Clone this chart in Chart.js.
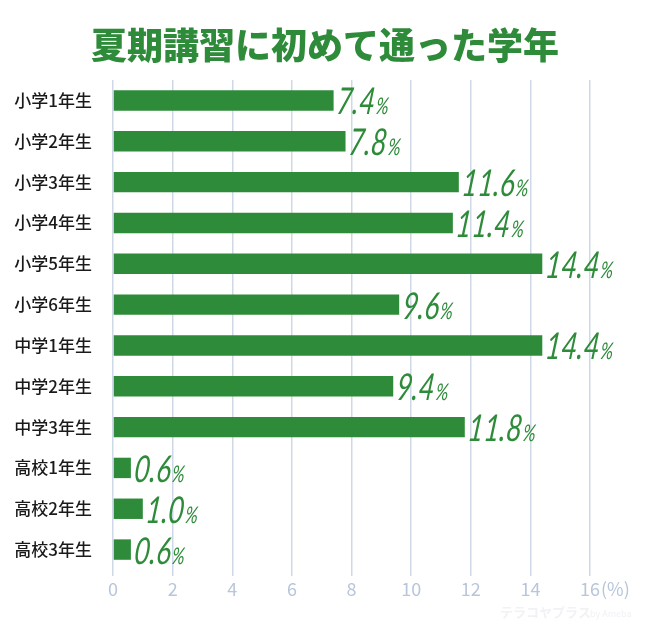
<!DOCTYPE html>
<html>
<head>
<meta charset="utf-8">
<script src="https://cdn.jsdelivr.net/npm/chart.js@4"></script>
<style>
  html, body { margin: 0; padding: 0; background: #fff; }
  #wrap { width: 650px; height: 630px; position: relative; }
</style>
</head>
<body>
<div id="wrap"><canvas id="chart" width="650" height="630"></canvas></div>
<script>
const grades = ["小学1年生","小学2年生","小学3年生","小学4年生","小学5年生","小学6年生","中学1年生","中学2年生","中学3年生","高校1年生","高校2年生","高校3年生"];
const shares = [7.4, 7.8, 11.6, 11.4, 14.4, 9.6, 14.4, 9.4, 11.8, 0.6, 1.0, 0.6];
const xTicks = [0, 2, 4, 6, 8, 10, 12, 14, 16];

const green = "#2e8b3a";
const gridColor = "#cfd8e6";
const jp = "'Noto Sans CJK JP', 'Noto Sans', sans-serif";

const decorPlugin = {
    id: "decor",
    afterDatasetsDraw(chart) {
        const ctx = chart.ctx;
        const meta = chart.getDatasetMeta(0);
        ctx.save();
        ctx.fillStyle = green;
        ctx.textBaseline = "alphabetic";
        meta.data.forEach((bar, i) => {
            const num = shares[i].toFixed(1);
            const x = bar.x + 2;
            const y = bar.y + 14;
            ctx.save();
            ctx.translate(x, y);
            ctx.transform(0.74, 0, -0.12, 1, 0, 0);
            ctx.font = "italic 400 37px Lato, 'Liberation Sans', sans-serif";
            ctx.textAlign = "left";
            ctx.fillText(num, 0, 0);
            const w = ctx.measureText(num).width;
            ctx.font = "italic 400 23px Lato, 'Liberation Sans', sans-serif";
            ctx.fillText("%", w + 2, 0);
            ctx.restore();
        });
        ctx.restore();
    },
    afterDraw(chart) {
        const ctx = chart.ctx;
        const xs = chart.scales.x;
        ctx.save();
        // title
        ctx.fillStyle = green;
        ctx.font = "900 36px " + jp;
        ctx.textAlign = "center";
        ctx.textBaseline = "middle";
        ctx.fillText("夏期講習に初めて通った学年", 325, 45);
        // unit after last tick
        ctx.fillStyle = "#b9c6da";
        ctx.font = "18px " + jp;
        ctx.textAlign = "left";
        ctx.fillText("(%)", xs.getPixelForValue(16) + 11, 589);
        // watermark
        ctx.fillStyle = "#f0f2f5";
        ctx.font = "bold 13px " + jp;
        ctx.fillText("テラコヤプラス", 500, 612);
        ctx.font = "9px " + jp;
        ctx.fillText("by Ameba", 590, 614);
        ctx.restore();
    }
};

new Chart(document.getElementById("chart"), {
    type: "bar",
    data: {
        labels: grades,
        datasets: [{
            data: shares,
            backgroundColor: green,
            borderWidth: 0,
            categoryPercentage: 1,
            barPercentage: 0.5
        }]
    },
    options: {
        indexAxis: "y",
        responsive: false,
        animation: false,
        layout: { padding: { left: 0, right: 60, top: 80, bottom: 30 } },
        plugins: {
            legend: { display: false },
            tooltip: { enabled: false }
        },
        scales: {
            x: {
                min: 0,
                max: 16,
                afterBuildTicks: (axis) => { axis.ticks = xTicks.map(v => ({ value: v })); },
                afterFit: (axis) => { axis.height = 30; },
                grid: { color: gridColor, lineWidth: 1.5, drawTicks: true, tickLength: 6 },
                border: { display: false },
                ticks: {
                    color: "#b9c6da",
                    font: { family: jp, size: 18 },
                    padding: 2
                }
            },
            y: {
                afterFit: (axis) => { axis.width = 113; },
                grid: { display: false },
                border: { display: false },
                ticks: {
                    color: "#1a1a1a",
                    font: { family: jp, size: 17, weight: "500" },
                    padding: 13
                }
            }
        }
    },
    plugins: [decorPlugin]
});
</script>
</body>
</html>
